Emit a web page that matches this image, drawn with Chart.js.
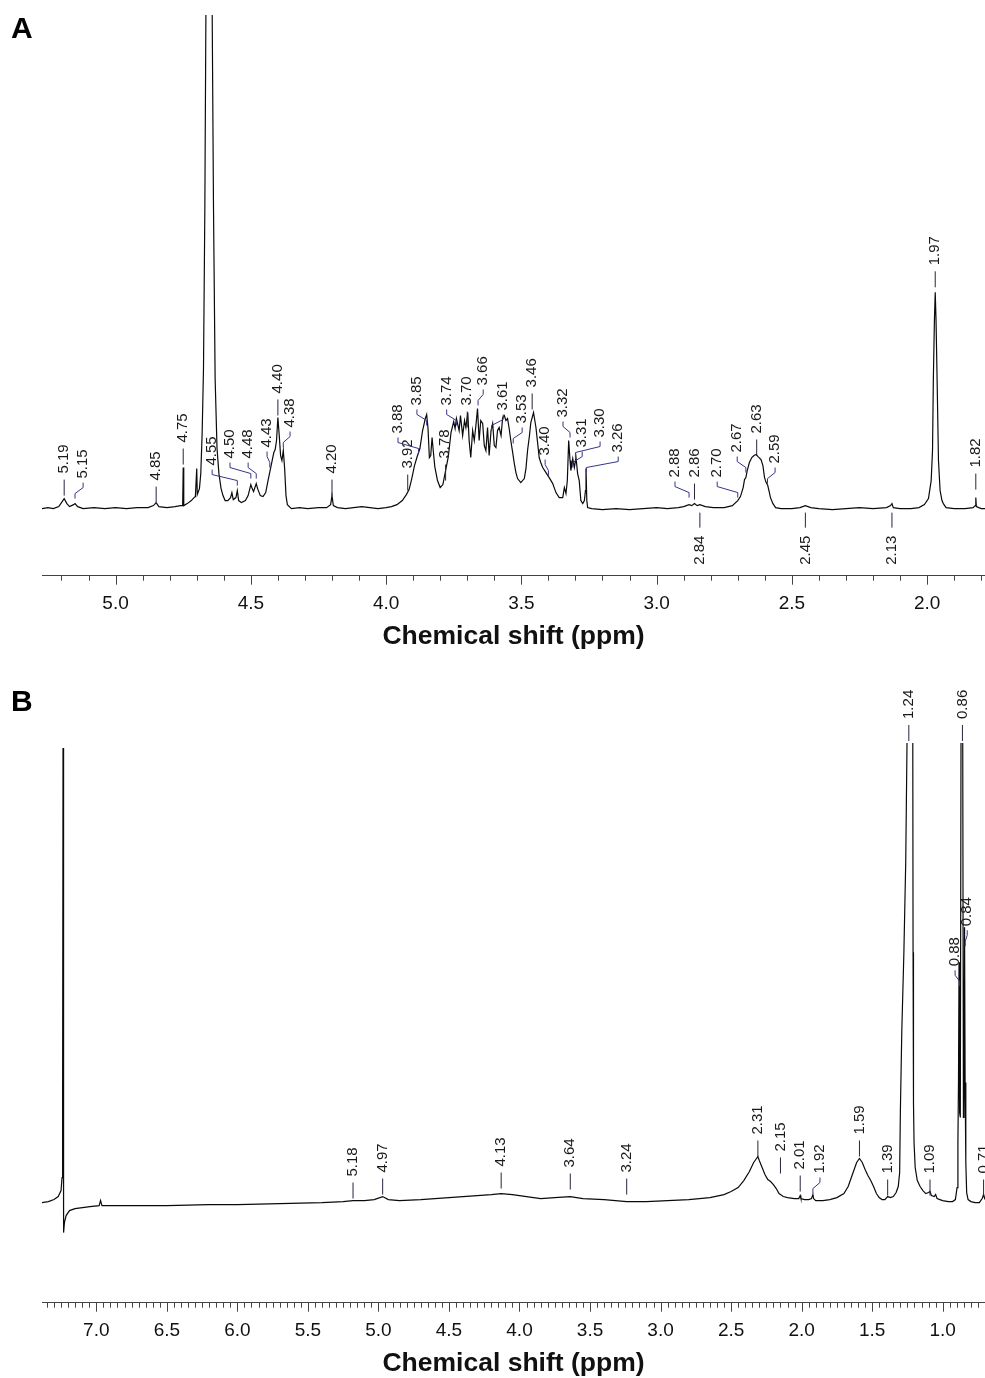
<!DOCTYPE html>
<html>
<head>
<meta charset="utf-8">
<script src="https://cdn.jsdelivr.net/npm/chart.js@4.4.1/dist/chart.umd.min.js"></script>
<style>
html,body{margin:0;padding:0;background:#fff;}
body{width:985px;height:1378px;position:relative;overflow:hidden;}
canvas{position:absolute;left:0;}
#ca{top:0;}
#cb{top:679px;}
</style>
</head>
<body>
<canvas id="ca" width="985" height="660"></canvas>
<canvas id="cb" width="985" height="699"></canvas>
<script>
// ---------- DATA ----------
// Panel A: chemical shift (ppm) and intensity (arbitrary units, off-scale peaks clipped)
const spectrumA = [
[5.272,0],[5.25,1],[5.23,0],[5.21,2],[5.20,6],[5.19,10],[5.18,5],[5.17,2],[5.155,4],[5.15,5],[5.14,2],[5.12,0],
[5.08,1],[5.04,0],[5.00,1],[4.96,0],[4.92,1],[4.88,1],[4.86,3],[4.85,6],[4.84,2],[4.81,1],[4.78,2],[4.76,3],
[4.752,3],[4.75,41],[4.748,3],[4.735,5],[4.72,8],[4.71,11],[4.705,12],[4.70,40],[4.698,14],[4.69,20],[4.685,35],
[4.68,75],[4.675,140],[4.67,300],[4.666,500],[4.66,1500],[4.648,1500],[4.643,500],[4.638,300],[4.632,130],
[4.625,60],[4.618,35],[4.61,20],[4.603,13],[4.595,8],[4.585,8],[4.575,11],[4.57,16],[4.565,9],[4.555,11],
[4.55,18],[4.545,8],[4.535,6],[4.52,8],[4.51,13],[4.50,24],[4.495,20],[4.49,17],[4.48,25],[4.475,20],[4.465,13],
[4.455,12],[4.445,16],[4.435,30],[4.425,43],[4.415,56],[4.41,59],[4.405,68],[4.40,91],[4.395,73],[4.39,53],
[4.385,48],[4.38,58],[4.375,40],[4.37,13],[4.365,4],[4.35,0],[4.32,1],[4.29,0],[4.25,1],[4.22,1],[4.205,4],
[4.20,13],[4.195,3],[4.18,1],[4.15,0],[4.12,1],[4.09,2],[4.06,1],[4.03,0],[4.00,1],[3.98,2],[3.96,4],[3.94,8],
[3.925,14],[3.915,19],[3.905,30],[3.895,43],[3.885,52],[3.875,60],[3.865,78],[3.855,90],[3.85,94],[3.845,80],
[3.84,51],[3.835,53],[3.83,71],[3.825,56],[3.82,42],[3.81,28],[3.80,21],[3.79,24],[3.78,38],[3.77,52],[3.76,76],
[3.75,87],[3.745,80],[3.74,90],[3.73,78],[3.725,93],[3.717,73],[3.71,88],[3.705,81],[3.698,96],[3.693,68],
[3.687,51],[3.68,78],[3.674,68],[3.668,83],[3.662,100],[3.656,68],[3.65,88],[3.643,85],[3.637,63],[3.631,58],
[3.625,81],[3.619,53],[3.612,78],[3.606,85],[3.60,63],[3.594,61],[3.588,78],[3.582,81],[3.575,73],[3.569,91],
[3.563,93],[3.557,88],[3.551,90],[3.545,80],[3.539,68],[3.532,56],[3.526,45],[3.52,36],[3.514,30],[3.502,26],
[3.489,30],[3.483,40],[3.477,58],[3.47,73],[3.465,86],[3.455,96],[3.446,81],[3.44,66],[3.434,51],[3.427,45],
[3.421,41],[3.409,36],[3.397,31],[3.384,25],[3.372,16],[3.36,11],[3.352,11],[3.347,11],[3.341,21],[3.335,15],
[3.33,28],[3.325,68],[3.32,48],[3.317,38],[3.31,50],[3.304,41],[3.298,51],[3.292,35],[3.286,28],[3.28,8],
[3.273,5],[3.267,8],[3.263,18],[3.261,40],[3.258,8],[3.255,1],[3.24,0],[3.20,-1],[3.15,0],[3.10,-1],[3.05,0],
[3.00,1],[2.96,0],[2.92,1],[2.90,2],[2.88,4],[2.87,3],[2.86,5],[2.85,3],[2.84,4],[2.82,2],[2.79,1],[2.75,1],
[2.72,3],[2.70,8],[2.69,12],[2.68,21],[2.675,29],[2.67,31],[2.665,38],[2.657,46],[2.648,51],[2.64,53],[2.632,54],
[2.625,52],[2.614,49],[2.607,43],[2.601,31],[2.595,26],[2.589,23],[2.583,16],[2.579,11],[2.57,5],[2.56,1],
[2.54,0],[2.50,0],[2.47,1],[2.45,3],[2.43,1],[2.40,0],[2.35,-1],[2.30,0],[2.25,1],[2.20,0],[2.15,1],[2.135,3],
[2.13,5],[2.125,1],[2.10,0],[2.06,0],[2.03,1],[2.01,4],[1.995,10],[1.985,28],[1.98,58],[1.977,128],[1.973,188],
[1.97,216],[1.967,188],[1.963,128],[1.958,48],[1.952,18],[1.945,8],[1.94,5],[1.93,1],[1.90,0],[1.86,0],[1.83,1],
[1.822,3],[1.82,11],[1.818,2],[1.80,0],[1.786,0]
];
// Panel B
const spectrumB = [
[7.385,0],[7.34,1],[7.30,3],[7.27,6],[7.25,12],[7.243,25],[7.239,80],[7.236,454],[7.233,60],[7.231,-30],
[7.226,-20],[7.214,-13],[7.19,-8],[7.151,-6],[7.045,-4],[6.98,-3],[6.97,2],[6.96,-3],[6.80,-3],[6.50,-3],
[6.20,-2],[6.00,-2],[5.70,-1],[5.40,0],[5.25,1],[5.18,2],[5.10,2],[5.03,3],[4.97,6],[4.93,3],[4.85,2],[4.70,3],
[4.50,5],[4.30,7],[4.20,8],[4.13,9],[4.05,8],[3.95,6],[3.85,4],[3.75,5],[3.64,6],[3.55,4],[3.40,3],[3.24,1],
[3.10,1],[2.95,2],[2.80,3],[2.65,5],[2.55,8],[2.50,11],[2.45,15],[2.41,22],[2.37,31],[2.34,40],[2.32,44],
[2.31,46],[2.30,42],[2.28,35],[2.26,28],[2.24,23],[2.22,21],[2.20,18],[2.18,14],[2.16,9],[2.15,8],[2.13,6],
[2.10,5],[2.05,4],[2.02,4],[2.01,7],[2.005,4],[1.98,3],[1.95,3],[1.93,4],[1.92,8],[1.915,4],[1.90,2],[1.85,2],
[1.80,3],[1.75,5],[1.70,9],[1.67,16],[1.64,28],[1.61,40],[1.59,44],[1.57,40],[1.55,33],[1.53,27],[1.51,22],
[1.49,16],[1.47,9],[1.45,5],[1.43,3],[1.41,3],[1.39,6],[1.37,5],[1.35,6],[1.33,10],[1.315,16],[1.305,30],
[1.30,90],[1.29,170],[1.275,250],[1.262,340],[1.252,470],[1.235,1500],[1.212,470],[1.21,250],[1.207,100],
[1.203,60],[1.195,35],[1.18,22],[1.16,16],[1.14,12],[1.12,9],[1.10,10],[1.09,11],[1.08,7],[1.06,6],[1.05,8],
[1.04,4],[1.02,3],[1.00,2],[0.96,1],[0.93,1],[0.91,3],[0.898,15],[0.892,60],[0.888,120],[0.884,240],[0.88,90],
[0.875,85],[0.870,470],[0.864,1500],[0.858,470],[0.853,85],[0.849,90],[0.845,275],[0.841,120],[0.836,40],
[0.83,10],[0.82,3],[0.80,1],[0.77,0],[0.74,0],[0.72,4],[0.71,8],[0.70,3]
];
// Peak labels (ppm values as printed)
const peaksA = [5.19,5.15,4.85,4.75,4.55,4.50,4.48,4.43,4.40,4.38,4.20,3.92,3.88,3.85,3.78,3.74,3.70,3.66,3.61,
  3.53,3.46,3.40,3.32,3.31,3.30,3.26,2.88,2.86,2.70,2.67,2.63,2.59,1.97,1.82,2.84,2.45,2.13];
const peaksB = [5.18,4.97,4.13,3.64,3.24,2.31,2.15,2.01,1.92,1.59,1.39,1.24,1.09,0.88,0.86,0.84,0.71];
const axisTitle = 'Chemical shift (ppm)';

// ---------- LABEL LAYOUT (label anchor ppm, label height in intensity units; negative = below baseline) ----------
const layoutA = [[5.19,35],[5.12,30],[4.85,28],[4.75,66],[4.643,43],[4.577,50],[4.51,50],[4.44,61],[4.40,115],
  [4.355,81],[4.20,35],[3.92,40],[3.956,75],[3.886,103],[3.782,50],[3.776,103],[3.70,103],[3.641,123],[3.567,98],
  [3.497,85],[3.46,121],[3.412,53],[3.346,91],[3.275,61],[3.209,71],[3.142,56],[2.932,31],[2.86,31],[2.776,31],
  [2.702,56],[2.63,75],[2.562,45],[1.97,243],[1.82,41],[2.84,-27],[2.45,-27],[2.13,-27]];
const layoutB = [[5.18,26],[4.97,30],[4.13,36],[3.64,35],[3.24,30],[2.31,68],[2.15,51],[2.01,33],[1.87,29],
  [1.59,68],[1.39,29],[1.24,483],[1.09,29],[0.912,236],[0.86,483],[0.826,276],[0.71,29]];

const FONT = '"Liberation Sans", Arial, Helvetica, sans-serif';

function makeAnnot(cfg) {
  return {
    id: 'nmrAnnot',
    afterDraw(chart) {
      const ctx = chart.ctx, xs = chart.scales.x, ys = chart.scales.y;
      ctx.save();
      // axis tick marks
      ctx.strokeStyle = '#444'; ctx.lineWidth = 1;
      ctx.beginPath();
      const lo = Math.ceil(xs.min / cfg.minorStep - 1e-6), hi = Math.floor(xs.max / cfg.minorStep + 1e-6);
      for (let n = lo; n <= hi; n++) {
        const v = n * cfg.minorStep;
        const major = Math.abs(v * 2 - Math.round(v * 2)) < 1e-6;
        const px = Math.round(xs.getPixelForValue(v)) + 0.5;
        ctx.moveTo(px, xs.top); ctx.lineTo(px, xs.top + (major ? 9 : 5));
      }
      ctx.stroke();
      // peak labels
      ctx.font = '15px ' + FONT;
      ctx.lineWidth = 1;
      cfg.peaks.forEach((val, i) => {
        const at = cfg.layout[i][0], lvl = cfg.layout[i][1];
        const px = xs.getPixelForValue(val), lx = xs.getPixelForValue(at);
        const txt = val.toFixed(2);
        ctx.fillStyle = '#1a1a1a';
        const y = ys.getPixelForValue(lvl);
        ctx.save(); ctx.translate(lx, y); ctx.rotate(-Math.PI / 2);
        ctx.textBaseline = 'middle';
        ctx.textAlign = lvl >= 0 ? 'left' : 'right';
        ctx.fillText(txt, 0, 0); ctx.restore();
        ctx.beginPath();
        if (lvl >= 0) {
          if (Math.abs(lx - px) < 1.5) {
            ctx.strokeStyle = '#25253f';
            ctx.moveTo(px, y + 6); ctx.lineTo(px, y + 22);
          } else {
            ctx.strokeStyle = '#35358a';
            const y0 = y + 4, y3 = y + 20;
            ctx.moveTo(lx, y0); ctx.lineTo(lx, y0 + 5); ctx.lineTo(px, y3 - 5); ctx.lineTo(px, y3);
          }
        } else {
          ctx.strokeStyle = '#25253f';
          ctx.moveTo(px, y - 23); ctx.lineTo(px, y - 8);
        }
        ctx.stroke();
      });
      // panel letter
      ctx.font = 'bold 30px ' + FONT;
      ctx.fillStyle = '#000'; ctx.textAlign = 'left'; ctx.textBaseline = 'alphabetic';
      ctx.fillText(cfg.letter, 11, cfg.letterY);
      ctx.restore();
    }
  };
}

function makeChart(id, spec, range, yr, pad, cfg) {
  return new Chart(document.getElementById(id), {
    type: 'line',
    data: { datasets: [{
      data: spec.map(p => ({ x: p[0], y: p[1] })),
      borderColor: '#0a0a0a', borderWidth: 1.2, pointRadius: 0, tension: 0, fill: false
    }] },
    options: {
      responsive: false, animation: false, events: [],
      layout: { padding: pad },
      plugins: { legend: { display: false }, tooltip: { enabled: false } },
      scales: {
        x: {
          type: 'linear', reverse: true, min: range[0], max: range[1],
          border: { display: true, color: '#444', width: 1 },
          grid: { display: true, drawOnChartArea: false, drawTicks: true, tickLength: 9, tickColor: 'rgba(0,0,0,0)', color: 'rgba(0,0,0,0)' },
          ticks: { stepSize: 0.5, includeBounds: false, autoSkip: false, maxRotation: 0, padding: 8,
            color: '#111', font: { family: FONT, size: 19 }, callback: v => Number(v).toFixed(1) },
          title: { display: true, text: axisTitle, color: '#111',
            font: { family: FONT, size: 26.5, weight: 'bold', lineHeight: 1.0 },
            padding: { top: 0, bottom: 0 } }
        },
        y: { display: false, min: yr[0], max: yr[1] }
      }
    },
    plugins: [makeAnnot(cfg)]
  });
}

makeChart('ca', spectrumA, [1.786, 5.272], [-67, 493], { left: 42, right: 0, top: 15, bottom: 10 },
  { peaks: peaksA, layout: layoutA, minorStep: 0.1, letter: 'A', letterY: 38 });
makeChart('cb', spectrumB, [0.70, 7.385], [-100, 459], { left: 42, right: 0, top: 64, bottom: 1 },
  { peaks: peaksB, layout: layoutB, minorStep: 0.05, letter: 'B', letterY: 32 });
</script>
</body>
</html>
